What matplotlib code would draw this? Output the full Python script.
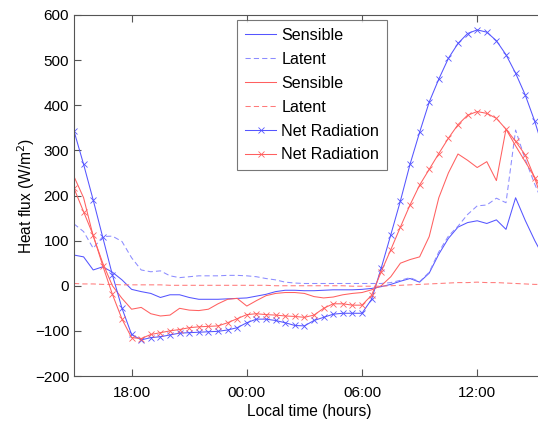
"""Diurnal heat flux curves: sensible, latent and net radiation for two sites."""

import matplotlib
matplotlib.use("Agg")
import matplotlib.pyplot as plt
import numpy as np

plt.rcParams["font.family"] = ["Liberation Sans", "DejaVu Sans"]

# half-hourly time axis in hours since midnight of day 1 (15:00 -> 15:30 next day)
hours = np.arange(15.0, 39.51, 0.5)

blue_sensible = [68, 64, 35, 42, 30, 13, -8, -13, -17, -26, -20, -20, -26, -30, -30, -30,
                 -29, -28, -27, -23, -19, -13, -10, -10, -11, -11, -10, -9, -9, -9, -8, -6,
                 -2, 3, 10, 16, 8, 28, 70, 105, 130, 140, 144, 138, 146, 125, 195, 145, 100, 60]
blue_latent = [137, 120, 83, 109, 110, 98, 62, 35, 31, 33, 22, 18, 20, 22, 22, 22,
               23, 23, 22, 20, 16, 13, 8, 6, 5, 5, 5, 5, 5, 5, 5, 5,
               5, 7, 12, 18, 9, 30, 75, 110, 132, 158, 177, 179, 194, 184, 345, 280, 225, 175]
red_sensible = [242, 195, 110, 50, 0, -28, -52, -48, -62, -67, -65, -50, -54, -55, -52, -40,
                -30, -28, -45, -33, -22, -17, -15, -15, -17, -24, -27, -25, -20, -17, -15, -9,
                0, 20, 50, 58, 64, 109, 195, 250, 292, 278, 262, 275, 233, 347, 310, 275, 240, 200]
red_latent = [5, 4, 4, 3, 3, 2, 2, 2, 2, 2, 1, 1, 1, 1, 1, 1,
              1, 1, 1, 1, 1, 0, 0, 0, 0, 0, 0, 0, 0, -1, -1, -1,
              -1, 0, 1, 2, 3, 4, 5, 6, 7, 7, 8, 7, 7, 6, 5, 4, 3, 3]
blue_netrad = [343, 269, 190, 107, 24, -50, -108, -120, -115, -113, -109, -105, -104, -103, -102, -101,
               -98, -93, -82, -74, -74, -77, -82, -88, -89, -77, -70, -63, -61, -61, -61, -30,
               39, 113, 188, 269, 340, 407, 458, 504, 537, 559, 567, 562, 543, 512, 471, 423, 364, 295]
red_netrad = [216, 164, 112, 44, -19, -74, -115, -117, -108, -104, -100, -97, -93, -91, -90, -89,
              -82, -73, -64, -62, -64, -65, -67, -68, -70, -65, -50, -40, -40, -43, -43, -21,
              31, 80, 130, 179, 223, 258, 293, 327, 357, 378, 386, 382, 371, 347, 320, 290, 238, 175]

tick_hours = [18, 24, 30, 36]
tick_labels = ["18:00", "00:00", "06:00", "12:00"]

BLUE = "#5555ff"
RED = "#ff6060"

fig = plt.figure(figsize=(5.38, 4.26), dpi=100)
ax = fig.add_axes([74 / 538, 50 / 426, 471 / 538, 361 / 426])

lw = 0.75
ax.plot(hours, blue_sensible, color=BLUE, lw=lw, label="Sensible")
ax.plot(hours, blue_latent, color="#8c8cff", lw=lw, ls=(0, (5, 3)), label="Latent")
ax.plot(hours, red_sensible, color=RED, lw=lw, label="Sensible")
ax.plot(hours, red_latent, color="#ff7a7a", lw=lw, ls=(0, (5, 3)), label="Latent")
ax.plot(hours, blue_netrad, color=BLUE, lw=lw, marker="x", ms=4, mew=0.6, label="Net Radiation")
ax.plot(hours, red_netrad, color=RED, lw=lw, marker="x", ms=4, mew=0.6, label="Net Radiation")

ax.set_xlim(15, 15 + 471 / 19.2)
ax.set_ylim(-200, 600)
ax.set_xticks(tick_hours)
ax.set_xticklabels(tick_labels)
ax.set_yticks(np.arange(-200, 601, 100))
ax.tick_params(direction="in", length=5, width=0.8, color="#555555",
               labelsize=11, top=True, right=True)
ax.tick_params(axis="x", pad=7)
ax.tick_params(axis="y", pad=3.5)
for spine in ax.spines.values():
    spine.set_color("#555555")
    spine.set_linewidth(0.8)

ax.set_xlabel("Local time (hours)", fontsize=11.2, labelpad=3)
ax.set_ylabel("Heat flux (W/m$^2$)", fontsize=11.2)
ax.yaxis.set_label_coords(-0.078, 0.5)

leg = ax.legend(loc="upper left", bbox_to_anchor=((237 - 74) / 471, (376 - 20) / 361),
                fontsize=11.6, frameon=True, fancybox=False, borderaxespad=0,
                handlelength=1.95, handletextpad=0.3, labelspacing=0.55, borderpad=0.5)
leg.get_frame().set_edgecolor("#555555")
leg.get_frame().set_linewidth(0.8)

fig.savefig("out.png", dpi=100)
